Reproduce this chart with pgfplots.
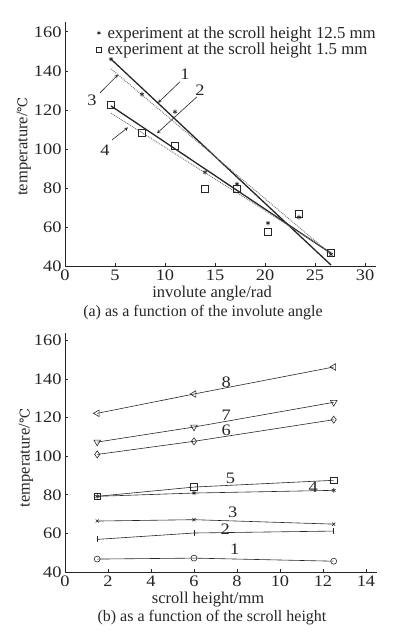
\documentclass[border=0pt]{standalone}
\usepackage{pgfplots}
\pgfplotsset{compat=1.18}
\usepackage{fontspec}
\setmainfont{Liberation Serif}
\newfontfamily\tickfont[FakeStretch=1.15]{Liberation Serif}
\newfontfamily\symfont{DejaVu Serif}
\newcommand{\degC}{{\symfont\fontsize{13.5}{16}\selectfont ℃}}
\definecolor{ink}{gray}{0.15}
\tikzset{num/.style={font=\tickfont\fontsize{16}{18}\selectfont, text=ink, inner sep=0pt}}
\pgfplotsset{
  common/.style={
    scale only axis,
    axis lines*=left,
    axis line style={-, ink, line width=0.8pt},
    tick align=inside,
    major tick length=3pt,
    tick style={ink, line width=0.6pt},
    ticklabel style={font=\tickfont\fontsize{16}{18}\selectfont, text=ink},
    /pgf/number format/assume math mode=true,
    label style={font=\fontsize{16.5}{19}\selectfont, text=ink},
    ytick={40,60,...,160},
    ymin=40,
    clip=false,
  },
  bline/.style={ink, line width=0.6pt, mark options={solid, line width=0.6pt}},
}
\begin{document}
\begin{tikzpicture}
\path[use as bounding box] (0pt,0pt) rectangle (399pt,-633pt);
% ---------- (a) ----------
\begin{axis}[common,
  at={(65pt,-266pt)}, anchor=south west,
  width=311pt, height=244pt,
  xmin=0, xmax=31.1, ymax=165,
  xtick={0,5,...,30},
  xlabel={involute angle/rad},
  ylabel={temperature/\degC},
  xlabel style={at={(axis description cs:0.473,-0.111)}, anchor=center},
  ylabel style={at={(axis description cs:-0.133,0.49)}, anchor=center},
  legend style={draw=none, fill=none, at={(axis description cs:0.10,0.99)}, anchor=north west,
    font=\fontsize{16.8}{18}\selectfont, text=ink, row sep=0pt, column sep=4pt, inner sep=0pt,
    nodes={inner ysep=1.7pt}},
  legend cell align=left,
]
\addplot[only marks, mark=asterisk, mark size=2.3pt, ink, mark options={line width=0.6pt},
  legend image post style={mark size=2pt}] coordinates {
(4.6,146) (7.7,128) (11,119) (14,88) (17.2,82) (20.3,62) (23.4,65) (26.6,46)};
\addlegendentry{experiment at the scroll height 12.5 mm}
\addplot[only marks, mark=square, mark size=3.5pt, ink, mark options={line width=0.6pt},
  legend image post style={mark size=2.6pt}] coordinates {
(4.6,122.5) (7.7,108) (11,101.5) (14,79.5) (17.2,79.5) (20.3,57.5) (23.4,67) (26.6,47)};
\addlegendentry{experiment at the scroll height 1.5 mm}
% lines
\addplot[forget plot, ink, line width=1.3pt] coordinates {(4.6,146) (26.6,40.5)};
\addplot[forget plot, ink, line width=1.3pt] coordinates {(4.6,122) (26.6,46.5)};
\addplot[forget plot, black!55, densely dotted, line width=0.9pt] coordinates {(4.6,141) (26.6,46)};
\addplot[forget plot, black!55, densely dotted, line width=0.9pt] coordinates {(4.6,118.3) (26.6,47)};
% annotations
\node[num] at (axis cs:12,138) {1};
\node[num] at (axis cs:13.5,130) {2};
\node[num] at (axis cs:2.7,125) {3};
\node[num] at (axis cs:4,99.5) {4};
\draw[-stealth, ink, line width=0.6pt] (axis cs:11.5,134.4) -- (axis cs:9.3,123.6);
\draw[-stealth, ink, line width=0.6pt] (axis cs:13.2,126.7) -- (axis cs:9.2,108);
\draw[-stealth, ink, line width=0.6pt] (axis cs:3.5,128.7) -- (axis cs:5.3,138);
\draw[-stealth, ink, line width=0.6pt] (axis cs:4.7,104.6) -- (axis cs:6.3,111);
\end{axis}
\node[font=\fontsize{16}{19}\selectfont, text=ink] at (203pt,-313pt) {(a) as a function of the involute angle};
% ---------- (b) ----------
\begin{axis}[common,
  at={(65pt,-572pt)}, anchor=south west,
  width=311.7pt, height=239pt,
  xmin=0, xmax=14.5, ymax=163.8,
  xtick={0,2,...,14},
  xlabel={scroll height/mm},
  ylabel={temperature/\degC},
  xlabel style={at={(axis description cs:0.459,-0.117)}, anchor=center},
  ylabel style={at={(axis description cs:-0.125,0.477)}, anchor=center},
]
\addplot[bline, mark=o, mark size=3pt] coordinates {(1.5,46.7) (6,47.2) (12.5,45.6)};
\addplot[bline, mark=|, mark size=3pt] coordinates {(1.5,56.9) (6,60.2) (12.5,61.2)};
\addplot[bline, mark=x, mark size=2.2pt] coordinates {(1.5,66.4) (6,67.1) (12.5,64.8)};
\addplot[bline, mark=asterisk, mark size=2.2pt] coordinates {(1.5,79.2) (6,80.9) (12.5,82.3)};
\addplot[bline, mark=square, mark size=3.3pt] coordinates {(1.5,79.2) (6,84) (12.5,87.5)};
\addplot[bline, mark=diamond, mark size=3.5pt] coordinates {(1.5,100.9) (6,107.7) (12.5,118.9)};
\addplot[bline, mark=triangle, mark size=3.8pt, mark options={rotate=180}] coordinates {(1.5,107.3) (6,115.1) (12.5,127.9)};
\addplot[bline, mark=triangle, mark size=3.8pt, mark options={rotate=90}] coordinates {(1.5,122.2) (6,132.2) (12.5,146.2)};
\node[num] at (axis cs:7.9,51.6) {1};
\node[num] at (axis cs:7.45,62.4) {2};
\node[num] at (axis cs:7.8,71) {3};
\node[num] at (axis cs:11.55,84) {4};
\node[num] at (axis cs:7.7,88.3) {5};
\node[num] at (axis cs:7.5,113.4) {6};
\node[num] at (axis cs:7.5,121.4) {7};
\node[num] at (axis cs:7.5,138.4) {8};
\end{axis}
\node[font=\fontsize{16}{19}\selectfont, text=ink] at (212pt,-618pt) {(b) as a function of the scroll height};
\end{tikzpicture}
\end{document}
